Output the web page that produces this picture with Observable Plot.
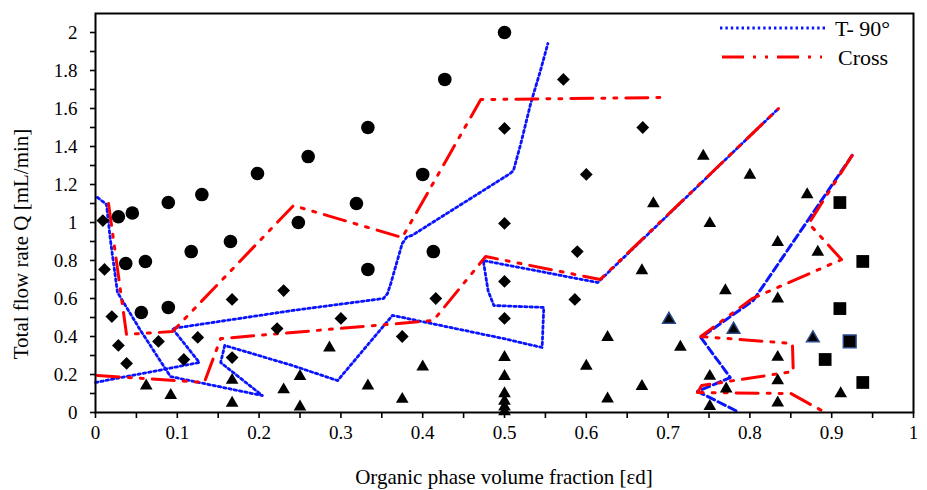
<!DOCTYPE html>
<html>
<head>
<meta charset="utf-8">
<script src="https://cdn.jsdelivr.net/npm/d3@7"></script>
<script src="https://cdn.jsdelivr.net/npm/@observablehq/plot@0.6"></script>
<style>
  html, body { margin: 0; padding: 0; background: #fff; }
  #wrap { position: relative; width: 927px; height: 490px; }
  #wrap svg { position: absolute; left: 0; top: 0; }
</style>
</head>
<body>
<div id="wrap"></div>
<script>
// ---------- data ----------
const circleX = [0.028, 0.045, 0.089, 0.130, 0.198, 0.260, 0.333, 0.427, 0.500, 0.400, 0.319, 0.248, 0.165, 0.117, 0.037, 0.061, 0.056, 0.089, 0.333, 0.413];
const circleY = [1.03, 1.05, 1.105, 1.147, 1.258, 1.347, 1.50, 1.753, 2.0, 1.253, 1.10, 1.0, 0.90, 0.847, 0.784, 0.795, 0.526, 0.553, 0.753, 0.847];

const diamondX = [0.009, 0.011, 0.020, 0.028, 0.038, 0.077, 0.108, 0.125, 0.167, 0.230, 0.222, 0.167, 0.300, 0.416, 0.375, 0.500, 0.500, 0.500, 0.500, 0.572, 0.669, 0.600, 0.589, 0.586];
const diamondY = [1.01, 0.753, 0.505, 0.353, 0.258, 0.374, 0.279, 0.395, 0.595, 0.642, 0.442, 0.289, 0.495, 0.60, 0.40, 0.995, 0.69, 0.495, 1.495, 1.753, 1.50, 1.253, 0.847, 0.595];

const triangleX = [0.062, 0.092, 0.167, 0.167, 0.230, 0.250, 0.250, 0.286, 0.333, 0.375, 0.400, 0.500, 0.500, 0.500, 0.500, 0.500, 0.500, 0.600, 0.626, 0.626, 0.668, 0.668, 0.682, 0.715, 0.743, 0.751, 0.751, 0.751, 0.771, 0.770, 0.800, 0.834, 0.834, 0.834, 0.834, 0.834, 0.870, 0.883, 0.911];
const triangleY = [0.14, 0.09, 0.17, 0.05, 0.12, 0.19, 0.03, 0.34, 0.14, 0.07, 0.24, 0.29, 0.19, 0.10, 0.06, 0.03, 0.005, 0.244, 0.396, 0.072, 0.747, 0.138, 1.10, 0.344, 1.35, 0.995, 0.191, 0.033, 0.125, 0.642, 1.25, 0.896, 0.598, 0.291, 0.168, 0.051, 1.147, 0.844, 0.10];
const outlinedTriangleX = [0.701, 0.780, 0.877];
const outlinedTriangleY = [0.489, 0.437, 0.391];

const squareX = [0.910, 0.938, 0.910, 0.892, 0.938];
const squareY = [1.105, 0.795, 0.547, 0.279, 0.158];
const outlinedSquareX = [0.922];
const outlinedSquareY = [0.374];

// T- 90° boundaries (blue)
const t90aX = [0.0024, 0.0134, 0.0183, 0.0269, 0.055, 0.0917, 0.204, 0.153, 0.158, 0.241, 0.296, 0.363, 0.499, 0.546, 0.548, 0.487, 0.480, 0.474, 0.614, 0.835];
const t90aY = [1.132, 1.095, 0.905, 0.632, 0.432, 0.189, 0.089, 0.263, 0.353, 0.247, 0.168, 0.511, 0.389, 0.342, 0.553, 0.563, 0.64, 0.80, 0.684, 1.60];
const t90bX = [0.0, 0.127, 0.094, 0.241, 0.352, 0.357, 0.361, 0.369, 0.375, 0.381, 0.387, 0.507, 0.511, 0.520, 0.532, 0.544, 0.553];
const t90bY = [0.158, 0.263, 0.442, 0.537, 0.60, 0.626, 0.679, 0.80, 0.89, 0.925, 0.932, 1.258, 1.274, 1.416, 1.626, 1.80, 1.942];
const t90cX = [0.925, 0.804, 0.740, 0.776, 0.736, 0.785];
const t90cY = [1.353, 0.589, 0.395, 0.184, 0.111, 0.005];

// Cross boundaries (red)
const crossAX = [0.0159, 0.0379, 0.0941, 0.242, 0.375, 0.471, 0.697];
const crossAY = [1.10, 0.411, 0.426, 1.089, 0.921, 1.647, 1.658];
const crossBX = [0.0024, 0.133, 0.153, 0.413, 0.477, 0.617, 0.835];
const crossBY = [0.195, 0.158, 0.389, 0.484, 0.821, 0.70, 1.60];
const crossCX = [0.925, 0.872, 0.912, 0.803, 0.740, 0.852, 0.853, 0.741, 0.736, 0.850, 0.890];
const crossCY = [1.353, 0.995, 0.805, 0.60, 0.40, 0.363, 0.216, 0.142, 0.105, 0.10, 0.005];

// ticks
const xTickValues = [0, 0.1, 0.2, 0.3, 0.4, 0.5, 0.6, 0.7, 0.8, 0.9, 1];
const xTickLabels = ["0", "0.1", "0.2", "0.3", "0.4", "0.5", "0.6", "0.7", "0.8", "0.9", "1"];
const xMinorTicks = [0, 0.05, 0.1, 0.15, 0.2, 0.25, 0.3, 0.35, 0.4, 0.45, 0.5, 0.55, 0.6, 0.65, 0.7, 0.75, 0.8, 0.85, 0.9, 0.95, 1];
const yTickValues = [0, 0.2, 0.4, 0.6, 0.8, 1, 1.2, 1.4, 1.6, 1.8, 2];
const yTickLabels = ["0", "0.2", "0.4", "0.6", "0.8", "1", "1.2", "1.4", "1.6", "1.8", "2"];
const yMinorTicks = [0, 0.1, 0.2, 0.3, 0.4, 0.5, 0.6, 0.7, 0.8, 0.9, 1, 1.1, 1.2, 1.3, 1.4, 1.5, 1.6, 1.7, 1.8, 1.9, 2];

const xTitle = "Organic phase volume fraction [εd]";
const yTitle = "Total flow rate Q [mL/min]";
const legendLabels = ["T- 90°", "Cross"];

// ---------- build ----------
const pts = (xs, ys) => xs.map((x, i) => ({x, y: ys[i]}));
const BLUE = "#0a14ff";
const RED = "#ff0000";
const DOT = "2.4,3";
const DASHDOT = "22,9,3,9,3,9";
const FONT = "'Liberation Serif', 'Times New Roman', serif";

const diamondSym = {
  draw(ctx, size) {
    const r = Math.sqrt(size / 2);
    ctx.moveTo(0, -r); ctx.lineTo(r, 0); ctx.lineTo(0, r); ctx.lineTo(-r, 0); ctx.closePath();
  }
};

const chart = Plot.plot({
  width: 927,
  height: 490,
  marginLeft: 95,
  marginRight: 14,
  marginTop: 13,
  marginBottom: 78,
  x: {domain: [0, 1]},
  y: {domain: [0, 2.1]},
  style: {fontFamily: FONT, fontSize: "19px", color: "black", background: "white"},
  marks: [
    Plot.axisX({ticks: xMinorTicks, tickSize: 6, strokeWidth: 1.6, tickFormat: () => "", label: null}),
    Plot.axisX({ticks: xTickValues, tickSize: 0, tickPadding: 13, fontSize: 19,
      tickFormat: d => xTickLabels[xTickValues.indexOf(d)], label: null}),
    Plot.axisY({ticks: yMinorTicks, tickSize: 5, strokeWidth: 1.6, tickFormat: () => "", label: null}),
    Plot.axisY({ticks: yTickValues, tickSize: 0, tickPadding: 18, fontSize: 19,
      tickFormat: d => yTickLabels[yTickValues.indexOf(d)], label: null}),
    Plot.line(pts(t90aX, t90aY), {x: "x", y: "y", stroke: BLUE, strokeWidth: 2.8, strokeDasharray: DOT}),
    Plot.line(pts(t90bX, t90bY), {x: "x", y: "y", stroke: BLUE, strokeWidth: 2.8, strokeDasharray: DOT}),
    Plot.line(pts(t90cX, t90cY), {x: "x", y: "y", stroke: BLUE, strokeWidth: 3, strokeDasharray: "8,4"}),
    Plot.line(pts(crossAX, crossAY), {x: "x", y: "y", stroke: RED, strokeWidth: 3, strokeDasharray: DASHDOT}),
    Plot.line(pts(crossBX, crossBY), {x: "x", y: "y", stroke: RED, strokeWidth: 3, strokeDasharray: DASHDOT}),
    Plot.line(pts(crossCX, crossCY), {x: "x", y: "y", stroke: RED, strokeWidth: 3, strokeDasharray: DASHDOT}),
    Plot.dot(pts(circleX, circleY), {x: "x", y: "y", symbol: "circle", r: 6.8, fill: "black"}),
    Plot.dot(pts(diamondX, diamondY), {x: "x", y: "y", symbol: diamondSym, r: 5.1, fill: "black"}),
    Plot.dot(pts(triangleX, triangleY), {x: "x", y: "y", symbol: "triangle", r: 4.7, fill: "black"}),
    Plot.dot(pts(outlinedTriangleX, outlinedTriangleY), {x: "x", y: "y", symbol: "triangle", r: 4.7, fill: "black", stroke: "#2a4a8a", strokeWidth: 1.5}),
    Plot.dot(pts(squareX, squareY), {x: "x", y: "y", symbol: "square", r: 7.2, fill: "black"}),
    Plot.dot(pts(outlinedSquareX, outlinedSquareY), {x: "x", y: "y", symbol: "square", r: 7.2, fill: "black", stroke: "#2a4a8a", strokeWidth: 1.5}),
    Plot.frame({stroke: "black", strokeWidth: 2})
  ]
});

const wrap = document.getElementById("wrap");
wrap.appendChild(chart);

// overlay: axis titles + legend
const ov = d3.select(wrap).append("svg")
  .attr("width", 927).attr("height", 490)
  .style("pointer-events", "none")
  .style("font-family", FONT);

ov.append("text")
  .attr("x", 504).attr("y", 484)
  .attr("text-anchor", "middle")
  .attr("font-size", 21)
  .attr("fill", "black")
  .text(xTitle);

ov.append("text")
  .attr("transform", "translate(28,244) rotate(-90)")
  .attr("text-anchor", "middle")
  .attr("font-size", 21)
  .attr("fill", "black")
  .text(yTitle);

ov.append("line")
  .attr("x1", 720).attr("x2", 825).attr("y1", 28).attr("y2", 28)
  .attr("stroke", BLUE).attr("stroke-width", 2.8).attr("stroke-dasharray", DOT);
ov.append("text")
  .attr("x", 835).attr("y", 35.5)
  .attr("font-size", 22).attr("fill", "black")
  .text(legendLabels[0]);

ov.append("line")
  .attr("x1", 722).attr("x2", 822).attr("y1", 57).attr("y2", 57)
  .attr("stroke", RED).attr("stroke-width", 3).attr("stroke-dasharray", DASHDOT);
ov.append("text")
  .attr("x", 838).attr("y", 65)
  .attr("font-size", 22).attr("fill", "black")
  .text(legendLabels[1]);
</script>
</body>
</html>
